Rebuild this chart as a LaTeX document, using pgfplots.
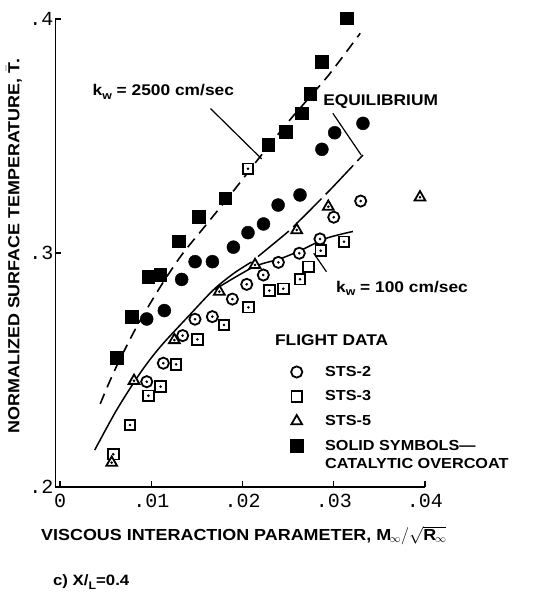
\documentclass[border=0pt]{standalone}
\usepackage{fontspec}
\setmainfont[FakeStretch=1.12]{Liberation Sans}
\newfontfamily\tickfont{Liberation Mono}
\usepackage{pgfplots}
\pgfplotsset{compat=1.18}
\begin{document}
\begin{tikzpicture}[x=1pt,y=1pt]
\useasboundingbox (-55.5,-108) rectangle (480.5,487);
\begin{axis}[
  at={(0,0)}, anchor=south west,
  scale only axis, width=369.5pt, height=468pt,
  xmin=-0.0005, xmax=0.04, ymin=0.2, ymax=0.4,
  axis x line*=bottom, axis y line*=left,
  axis line style={line width=1.5pt, -},
  scaled x ticks=false, scaled y ticks=false,
  xtick={0,0.01,0.02,0.03,0.04}, xticklabels={0,.01,.02,.03,.04},
  ytick={0.2,0.3,0.4}, yticklabels={.2,.3,.4},
  tick align=inside, major tick length=6pt,
  tick style={line width=1.3pt, black},
  ticklabel style={font=\tickfont\fontsize{20}{20}\selectfont, inner sep=2pt},
  xticklabel style={yshift=-5pt},
  clip=false,
  legend style={at={(axis cs:0.0249,0.2530)}, anchor=north west, draw=none, fill=none,
    font=\bfseries\fontsize{14.5}{15}\selectfont, row sep=11pt, column sep=21pt,
    nodes={inner sep=1pt}},
  legend cell align=left,
  legend image code/.code={\draw[#1] plot coordinates {(0pt,0pt)};},
]
% k_w = 2500 (dashed)
\addplot[forget plot, black, line width=1.6pt, dash pattern=on 11pt off 7pt, smooth] coordinates {
(0.0044,0.2355) (0.0060,0.2500) (0.0084,0.2685) (0.0110,0.2856) (0.0133,0.2990)
(0.0160,0.3120) (0.0190,0.3265) (0.0220,0.3415) (0.0250,0.3560) (0.0274,0.3668)
(0.0296,0.3768) (0.0329,0.3939)};
% equilibrium, lower solid part
\addplot[forget plot, black, line width=1.5pt, smooth] coordinates {
(0.0038,0.2158) (0.0062,0.2329) (0.0088,0.2488) (0.0110,0.2600) (0.0142,0.2735)
(0.0168,0.2842) (0.0190,0.2912) (0.0210,0.2962)};
% equilibrium, upper long-dashed part
\addplot[forget plot, black, line width=1.5pt, dash pattern=on 40pt off 6pt, smooth] coordinates {
(0.0217,0.2985) (0.0252,0.3098) (0.0265,0.3148) (0.0296,0.3270) (0.0332,0.3419)};
% k_w = 100 (solid)
\addplot[forget plot, black, line width=1.5pt, smooth] coordinates {
(0.0170,0.2845) (0.0212,0.2940) (0.0241,0.2975) (0.0263,0.3010) (0.0292,0.3063) (0.0321,0.3092)};
% leader lines
\addplot[forget plot, black, line width=1.2pt] coordinates {(0.0165,0.3617) (0.0221,0.3402)};
\addplot[forget plot, black, line width=1.2pt] coordinates {(0.0299,0.3597) (0.0330,0.3419)};
\addplot[forget plot, black, line width=1.2pt] coordinates {(0.0278,0.2999) (0.0292,0.2920)};

% STS-2 open circles
\addplot[only marks, mark=*, mark size=5.6pt, mark options={draw=black, fill=white, line width=1.8pt}] coordinates {
(0.0095,0.2450) (0.01132,0.2529) (0.01344,0.2647) (0.01479,0.2717) (0.01669,0.2728)
(0.01889,0.2803) (0.02046,0.2866) (0.02228,0.2906) (0.02393,0.2960) (0.02622,0.2999)
(0.02849,0.3060) (0.0300,0.3153) (0.03295,0.3222)};
\addlegendentry{STS-2}
% STS-3 open squares
\addplot[only marks, mark=square*, mark size=5.3pt, mark options={draw=black, fill=white, line width=1.8pt}] coordinates {
(0.00584,0.2140) (0.00767,0.2265) (0.00968,0.2390) (0.01103,0.2429) (0.01271,0.2524)
(0.01505,0.2631) (0.01797,0.2692) (0.02064,0.2768) (0.02294,0.2839) (0.02447,0.2847)
(0.0263,0.2888) (0.02721,0.2941) (0.02857,0.3010) (0.03112,0.3048) (0.0206,0.3360)};
\addlegendentry{STS-3}
% STS-5 open triangles
\addplot[only marks, mark=triangle*, mark size=6.2pt, mark options={draw=black, fill=white, line width=1.8pt}] coordinates {
(0.00566,0.2104) (0.00811,0.2454) (0.01253,0.2628) (0.01746,0.2835) (0.02137,0.2949)
(0.02594,0.3098) (0.0294,0.3198) (0.03945,0.3238)};
\addlegendentry{STS-5}
% solid squares (catalytic overcoat)
\addplot[only marks, mark=square*, mark size=6.3pt, black] coordinates {
(0.00621,0.2553) (0.00785,0.2728) (0.00968,0.2899) (0.01096,0.2906) (0.0130,0.3050)
(0.0152,0.3155) (0.0181,0.3234) (0.0228,0.3462) (0.0247,0.3518) (0.0265,0.3597)
(0.0274,0.3682) (0.0287,0.3818) (0.0314,0.4003)};
\addlegendentry{SOLID SYMBOLS---}
% solid circles
\addplot[forget plot, only marks, mark=*, mark size=6.5pt, black] coordinates {
(0.0095,0.2718) (0.01143,0.2754) (0.01333,0.2887) (0.0148,0.2963) (0.0167,0.2963)
(0.0190,0.3025) (0.0206,0.3087) (0.0223,0.3124) (0.0239,0.3205) (0.0263,0.3248)
(0.0287,0.3443) (0.0301,0.3514) (0.0332,0.3554)};
% centre dots of open symbols
\addplot[forget plot, only marks, mark=*, mark size=1.1pt, black] coordinates {
(0.0095,0.2450) (0.01132,0.2529) (0.01344,0.2647) (0.01479,0.2717) (0.01669,0.2728)
(0.01889,0.2803) (0.02046,0.2866) (0.02228,0.2906) (0.02393,0.2960) (0.02622,0.2999)
(0.02849,0.3060) (0.0300,0.3153) (0.03295,0.3222)
(0.00584,0.2140) (0.00767,0.2265) (0.00968,0.2390) (0.01103,0.2429) (0.01271,0.2524)
(0.01505,0.2631) (0.01797,0.2692) (0.02064,0.2768) (0.02294,0.2839) (0.02447,0.2847)
(0.0263,0.2888) (0.02857,0.3010) (0.03112,0.3048) (0.0206,0.3360)
(0.00566,0.2104) (0.00811,0.2454) (0.01253,0.2628) (0.01746,0.2835) (0.02137,0.2949)
(0.02594,0.3098) (0.0294,0.3198) (0.03945,0.3238)};

% text
\node[anchor=base west, inner sep=0pt, font=\bfseries\fontsize{15.5}{16}\selectfont]
  at (axis cs:0.00355,0.3671) {k\raisebox{-0.45ex}{\fontsize{11}{11}\selectfont w} = 2500 cm/sec};
\node[anchor=base west, inner sep=0pt, font=\bfseries\fontsize{15.5}{16}\selectfont]
  at (axis cs:0.02883,0.3630) {EQUILIBRIUM};
\node[anchor=base west, inner sep=0pt, font=\bfseries\fontsize{15.5}{16}\selectfont]
  at (axis cs:0.03024,0.2833) {k\raisebox{-0.45ex}{\fontsize{11}{11}\selectfont w} = 100 cm/sec};
\node[anchor=base west, inner sep=0pt, font=\bfseries\fontsize{15.5}{16}\selectfont]
  at (axis cs:0.02355,0.2603) {FLIGHT DATA};
\node[anchor=base west, inner sep=0pt, font=\bfseries\fontsize{14.5}{15}\selectfont]
  at (axis cs:0.02903,0.2081) {CATALYTIC OVERCOAT};
\node[anchor=base west, inner sep=0pt, font=\bfseries\fontsize{16}{17}\selectfont]
  at (axis cs:-0.00209,0.1772) {VISCOUS INTERACTION PARAMETER, $\mathbf{M}_{\infty}/\sqrt{\mathbf{R}_{\infty}}$};
\node[rotate=90, anchor=center, inner sep=0pt, font=\bfseries\fontsize{16}{17}\selectfont]
  at (axis cs:-0.00505,0.3030) {NORMALIZED SURFACE TEMPERATURE, $\bar{\mathbf{T}}$.};
\node[anchor=base west, inner sep=0pt, font=\bfseries\fontsize{15}{16}\selectfont]
  at (axis cs:-0.00078,0.1577) {c) X/\raisebox{-0.45ex}{\fontsize{11}{11}\selectfont L}=0.4};
\end{axis}
\end{tikzpicture}
\end{document}
